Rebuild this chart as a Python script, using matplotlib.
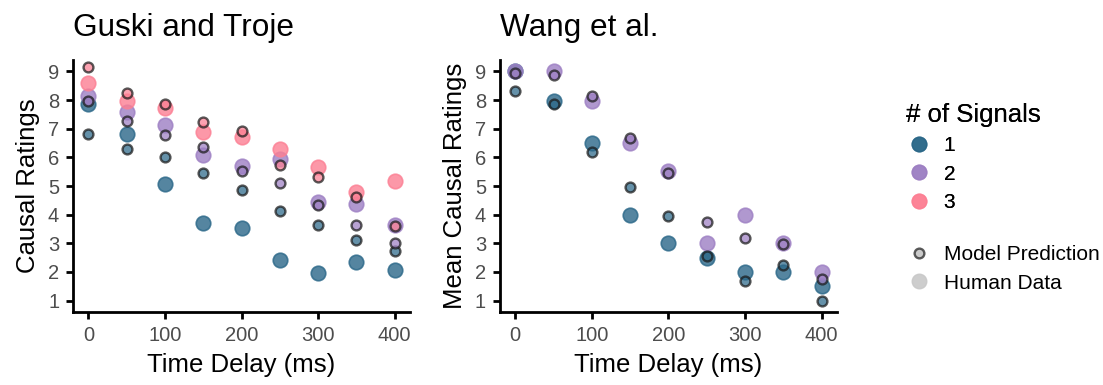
import matplotlib
matplotlib.use("Agg")
import matplotlib.pyplot as plt
from matplotlib.lines import Line2D

plt.rcParams['font.family'] = ['Liberation Sans', 'DejaVu Sans']

# time delays (ms)
delays = [0, 50, 100, 150, 200, 250, 300, 350, 400]

# Guski and Troje
gt_human_1 = [7.86, 6.81, 5.07, 3.72, 3.53, 2.40, 1.97, 2.35, 2.08]
gt_model_1 = [6.81, 6.31, 6.02, 5.47, 4.86, 4.14, 3.63, 3.13, 2.73]
gt_human_2 = [8.15, 7.59, 7.14, 6.09, 5.71, 5.94, 4.45, 4.37, 3.65]
gt_model_2 = [7.98, 7.27, 6.79, 6.35, 5.53, 5.10, 4.33, 3.63, 3.00]
gt_human_3 = [8.59, 7.98, 7.74, 6.90, 6.72, 6.28, 5.66, 4.80, 5.19]
gt_model_3 = [9.16, 8.26, 7.86, 7.22, 6.92, 5.73, 5.30, 4.63, 3.60]

# Wang et al.
wang_human_1 = [9.00, 7.98, 6.50, 3.99, 3.00, 2.50, 2.01, 2.00, 1.51]
wang_model_1 = [8.33, 7.87, 6.18, 4.98, 3.94, 2.55, 1.69, 2.25, 1.00]
wang_human_2 = [9.00, 9.00, 7.98, 6.49, 5.53, 3.00, 3.99, 3.00, 2.00]
wang_model_2 = [8.93, 8.88, 8.16, 6.69, 5.44, 3.73, 3.20, 2.99, 1.74]

signals = ['1', '2', '3']
colors = {'1': '#2a6788', '2': '#9d7fc3', '3': '#fc7f93'}

HUMAN_S = 110
MODEL_S = 50


def draw_panel(ax, title, ylabel, humans, models):
    for sig, vals in humans:
        ax.scatter(delays, vals, s=HUMAN_S, color=colors[sig], alpha=0.8,
                   edgecolors=colors[sig], linewidths=1.2, zorder=2)
    for sig, vals in models:
        ax.scatter(delays, vals, s=MODEL_S, facecolor=colors[sig],
                   edgecolors='#1a1a1a', linewidths=1.7, alpha=0.72, zorder=3)
    ax.set_xlim(-20, 420)
    ax.set_ylim(0.6, 9.4)
    ax.set_xticks([0, 100, 200, 300, 400])
    ax.set_yticks(range(1, 10))
    for s in ['top', 'right']:
        ax.spines[s].set_visible(False)
    for s in ['left', 'bottom']:
        ax.spines[s].set_linewidth(2.0)
    ax.tick_params(length=5, width=2.0, color='black', labelsize=14.5,
                   labelcolor='#4d4d4d', pad=5)
    ax.set_xlabel('Time Delay (ms)', fontsize=18.5, labelpad=6)
    ax.set_ylabel(ylabel, fontsize=18.5, labelpad=6)
    ax.set_title(title, loc='left', fontsize=22.7, pad=17)


fig = plt.figure(figsize=(11.03, 3.85), dpi=100)
ax1 = fig.add_axes([0.0662, 0.1896, 0.3055, 0.6545])
ax2 = fig.add_axes([0.4533, 0.1896, 0.3055, 0.6545])

draw_panel(ax1, 'Guski and Troje', 'Causal Ratings',
           [('1', gt_human_1), ('2', gt_human_2), ('3', gt_human_3)],
           [('1', gt_model_1), ('2', gt_model_2), ('3', gt_model_3)])
draw_panel(ax2, 'Wang et al.', 'Mean Causal Ratings',
           [('1', wang_human_1), ('2', wang_human_2)],
           [('1', wang_model_1), ('2', wang_model_2)])

# legend: number of signals
sig_handles = [Line2D([], [], linestyle='none', marker='o', markersize=10.5,
                      markerfacecolor=colors[s], markeredgecolor=colors[s],
                      alpha=0.8) for s in signals]
leg1 = fig.legend(sig_handles, signals, title='# of Signals',
                  loc='upper left', bbox_to_anchor=(0.812, 0.76),
                  frameon=False, fontsize=15, title_fontsize=18.5,
                  alignment='left', handletextpad=0.6, labelspacing=0.45,
                  borderpad=0, handlelength=1.2)
fig.add_artist(leg1)

type_handles = [
    Line2D([], [], linestyle='none', marker='o', markersize=7,
           markerfacecolor='#bdbdbd', markeredgecolor='#333333',
           markeredgewidth=1.7, alpha=0.8),
    Line2D([], [], linestyle='none', marker='o', markersize=10.5,
           markerfacecolor='#c8c8c8', markeredgecolor='#c8c8c8', alpha=0.9),
]
fig.legend(type_handles, ['Model Prediction', 'Human Data'],
           loc='upper left', bbox_to_anchor=(0.812, 0.39),
           frameon=False, fontsize=15, handletextpad=0.6, labelspacing=0.45,
           borderpad=0, handlelength=1.2)

fig.savefig('out.png', dpi=100)
